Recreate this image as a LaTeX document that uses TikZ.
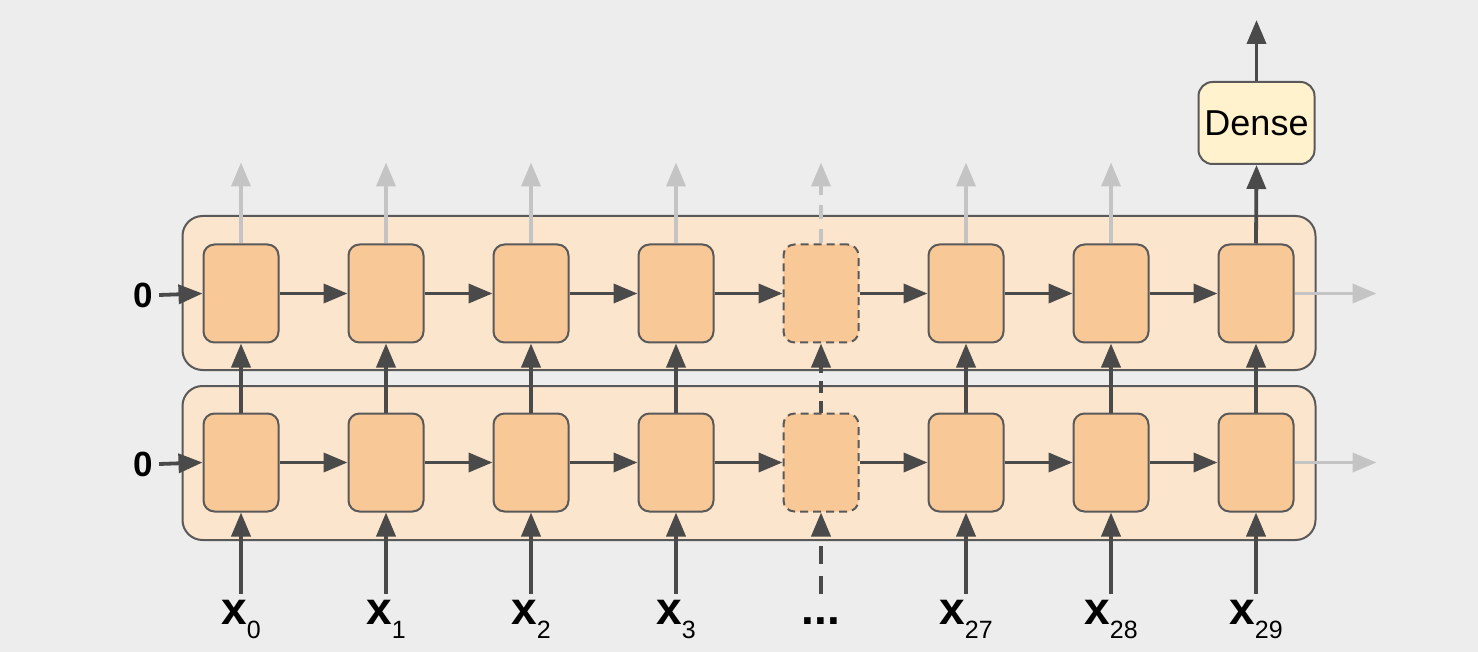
\documentclass[tikz,border=0pt]{standalone}
\usepackage{fontspec}
\setmainfont{Liberation Sans}
\usetikzlibrary{arrows.meta,calc}
\definecolor{bgc}{HTML}{EDEDED}
\definecolor{contfill}{HTML}{FCE5CD}
\definecolor{cellfill}{HTML}{F9C897}
\definecolor{bordc}{HTML}{595959}
\definecolor{arrc}{HTML}{4A4A4A}
\definecolor{grayarr}{HTML}{C4C4C4}
\definecolor{densefill}{HTML}{FFF2CC}
\tikzset{
  container/.style={draw=bordc, line width=1pt, fill=contfill, rounded corners=10pt,
    minimum width=566.5pt, minimum height=77pt, inner sep=0pt},
  cellbox/.style={draw=bordc, line width=1pt, fill=cellfill, rounded corners=5.5pt,
    minimum width=37.5pt, minimum height=49pt, inner sep=0pt},
  dashedcell/.style={cellbox, dash pattern=on 4pt off 2.5pt},
  densebox/.style={draw=bordc, line width=1pt, fill=densefill, rounded corners=7pt,
    minimum width=58pt, minimum height=41pt, inner sep=0pt, font=\fontsize{18}{20}\selectfont},
  darrow/.style={draw=arrc, line width=1.9pt, -{Triangle[length=12pt,width=9.5pt]}},
  garrow/.style={draw=grayarr, line width=1.9pt, -{Triangle[length=12pt,width=9.5pt]}},
  zerolab/.style={font=\fontsize{17.5}{18}\selectfont\bfseries, inner sep=0pt},
  xlab/.style={font=\fontsize{23}{24}\selectfont\bfseries, inner sep=0pt, anchor=base},
}
\newcommand{\xsub}[1]{x\raisebox{-7pt}{\fontsize{12.5}{13}\mdseries\selectfont #1}}
\begin{document}
\begin{tikzpicture}[x=0.5pt,y=-0.5pt]
\fill[bgc] (0,0) rectangle (1478,652);
\useasboundingbox (0,0) rectangle (1478,652);

% containers
\node[container] (ctop) at (749,293) {};
\node[container] (cbot) at (749,463) {};

% cells
\foreach \i in {0,...,7} {
  \pgfmathsetmacro{\cx}{241+145*\i}
  \ifnum\i=4
    \node[dashedcell] (t\i) at (\cx,293.5) {};
    \node[dashedcell] (b\i) at (\cx,462.5) {};
  \else
    \node[cellbox] (t\i) at (\cx,293.5) {};
    \node[cellbox] (b\i) at (\cx,462.5) {};
  \fi
}

% zero inputs
\node[zerolab] (z1) at (143,295) {0};
\node[zerolab] (z2) at (143,464) {0};
\draw[darrow] (z1.east) ++(3pt,0) -- (t0.west);
\draw[darrow] (z2.east) ++(3pt,0) -- (b0.west);

% horizontal recurrences
\foreach \i [evaluate=\i as \j using int(\i+1)] in {0,...,6} {
  \draw[darrow] (t\i.east) -- (t\j.west);
  \draw[darrow] (b\i.east) -- (b\j.west);
}

% vertical connections between layers
\foreach \i in {0,1,2,3,5,6,7} {
  \draw[darrow] (b\i.north) -- (t\i.south);
}
\draw[darrow, dash pattern=on 6pt off 4pt] (b4.north) -- (t4.south);

% gray outputs of top layer
\foreach \i in {0,1,2,3,5,6} {
  \coordinate (o\i) at ($(t\i.north)+(0,-81)$);
  \draw[garrow] (t\i.north) -- (o\i);
}
\coordinate (o4) at ($(t4.north)+(0,-81)$);
\draw[garrow, dash pattern=on 7pt off 5pt] (t4.north) -- (o4);

% gray state outputs on the right
\coordinate (sr1) at ($(t7.east)+(82,0)$);
\coordinate (sr2) at ($(b7.east)+(82,0)$);
\draw[garrow] (t7.east) -- (sr1);
\draw[garrow] (b7.east) -- (sr2);

% dense
\node[densebox] (dense) at (1256.5,123) {Dense};
\draw[darrow] (t7.north) -- (dense.south);
\coordinate (yout) at (1256.5,20);
\draw[darrow] (dense.north) -- (yout);

% inputs
\node[xlab] (x0) at (241,624) {\xsub{0}};
\node[xlab] (x1) at (386,624) {\xsub{1}};
\node[xlab] (x2) at (531,624) {\xsub{2}};
\node[xlab] (x3) at (676,624) {\xsub{3}};
\node[xlab] (x4) at (821,624) {...};
\node[xlab] (x5) at (966,624) {\xsub{27}};
\node[xlab] (x6) at (1111,624) {\xsub{28}};
\node[xlab] (x7) at (1256,624) {\xsub{29}};
\foreach \i in {0,1,2,3,5,6,7} {
  \coordinate (xs\i) at ($(b\i.south)+(0,81)$);
  \draw[darrow] (xs\i) -- (b\i.south);
}
\coordinate (xs4) at ($(b4.south)+(0,81)$);
\draw[darrow, dash pattern=on 9pt off 6pt] (xs4) -- (b4.south);
\end{tikzpicture}
\end{document}
